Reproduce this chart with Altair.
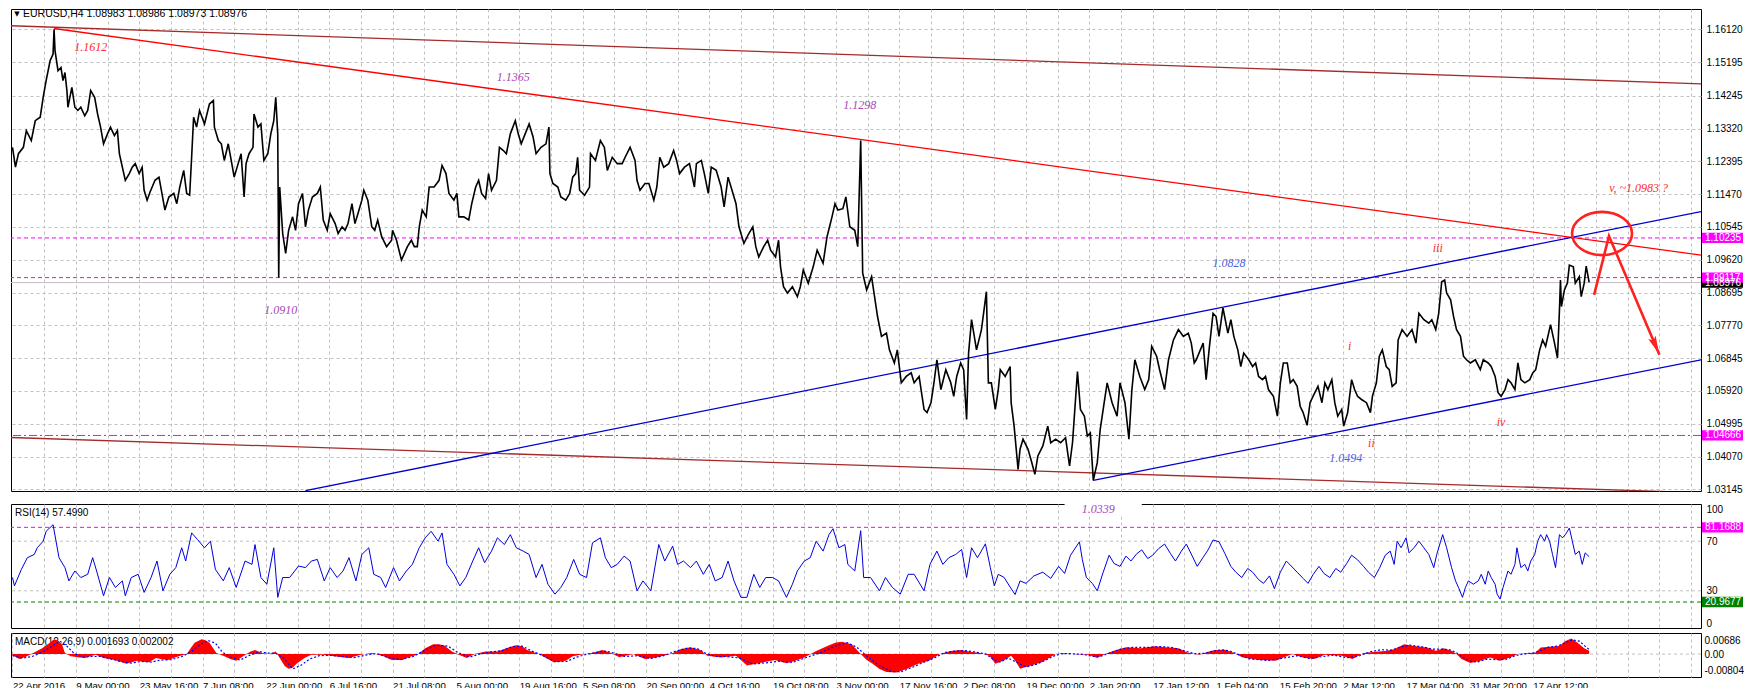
import altair as alt
import pandas as pd

# ------------------------------------------------------------------ data
# EURUSD H4 close, (bar index, price)
price_points = [
    (0, 1.1279), (3, 1.1223), (6, 1.1261), (11, 1.1279), (14, 1.1326), (19, 1.1298), (23, 1.1354), (28, 1.1364),
    (31, 1.1420), (34, 1.1467), (38, 1.1523), (41, 1.1542), (42, 1.1612), (43, 1.1551), (46, 1.1495), (49, 1.1504),
    (51, 1.1467), (53, 1.1490), (55, 1.1439), (56, 1.1392), (60, 1.1448), (63, 1.1392), (66, 1.1383), (69, 1.1392),
    (73, 1.1368), (76, 1.1383), (79, 1.1439), (83, 1.1420), (86, 1.1373), (89, 1.1336), (92, 1.1289), (96, 1.1317),
    (99, 1.1336), (103, 1.1312), (106, 1.1326), (108, 1.1261), (111, 1.1223), (114, 1.1186), (118, 1.1205),
    (121, 1.1223), (124, 1.1233), (128, 1.1205), (131, 1.1223), (133, 1.1158), (136, 1.1130), (139, 1.1153),
    (144, 1.1186), (148, 1.1195), (151, 1.1149), (154, 1.1102), (158, 1.1139), (163, 1.1149), (166, 1.1120),
    (169, 1.1167), (173, 1.1214), (176, 1.1149), (179, 1.1144), (181, 1.1251), (183, 1.1364), (186, 1.1336),
    (189, 1.1383), (194, 1.1345), (199, 1.1401), (203, 1.1411), (204, 1.1336), (208, 1.1298), (211, 1.1289),
    (214, 1.1242), (218, 1.1289), (221, 1.1242), (224, 1.1195), (228, 1.1233), (231, 1.1261), (234, 1.1139),
    (236, 1.1233), (239, 1.1261), (243, 1.1279), (244, 1.1373), (248, 1.1336), (251, 1.1345), (254, 1.1242),
    (258, 1.1261), (261, 1.1317), (264, 1.1354), (266, 1.1420), (268, 1.1317), (269, 1.0912), (270, 1.1167),
    (273, 1.1036), (276, 1.0980), (279, 1.1045), (283, 1.1083), (286, 1.1045), (289, 1.1120), (293, 1.1149),
    (296, 1.1055), (299, 1.1102), (303, 1.1139), (308, 1.1149), (311, 1.1167), (314, 1.1074), (318, 1.1045),
    (321, 1.1092), (326, 1.1064), (329, 1.1036), (333, 1.1055), (336, 1.1045), (339, 1.1064), (343, 1.1120),
    (346, 1.1064), (349, 1.1092), (353, 1.1130), (355, 1.1158), (359, 1.1130), (363, 1.1055), (366, 1.1045),
    (369, 1.1074), (373, 1.1027), (378, 1.0999), (383, 1.1017), (384, 1.1045), (388, 1.1017), (393, 1.0961),
    (396, 1.0980), (399, 1.0999), (403, 1.1017), (406, 1.0999), (409, 1.0999), (411, 1.1055), (414, 1.1102),
    (418, 1.1083), (421, 1.1167), (426, 1.1167), (431, 1.1186), (434, 1.1228), (438, 1.1205), (441, 1.1149),
    (446, 1.1130), (449, 1.1149), (451, 1.1083), (456, 1.1083), (461, 1.1074), (464, 1.1120), (468, 1.1167),
    (471, 1.1186), (474, 1.1149), (478, 1.1135), (481, 1.1205), (484, 1.1158), (489, 1.1186), (492, 1.1279),
    (496, 1.1270), (499, 1.1261), (503, 1.1317), (508, 1.1354), (511, 1.1317), (514, 1.1289), (518, 1.1317),
    (522, 1.1345), (526, 1.1308), (529, 1.1261), (534, 1.1279), (539, 1.1289), (542, 1.1336), (543, 1.1205),
    (546, 1.1177), (551, 1.1167), (554, 1.1139), (559, 1.1130), (563, 1.1149), (566, 1.1195), (569, 1.1205),
    (571, 1.1251), (573, 1.1158), (578, 1.1144), (583, 1.1167), (584, 1.1261), (589, 1.1242), (594, 1.1298),
    (598, 1.1279), (601, 1.1214), (606, 1.1251), (611, 1.1233), (616, 1.1233), (619, 1.1251), (624, 1.1279),
    (629, 1.1242), (631, 1.1186), (634, 1.1158), (639, 1.1177), (643, 1.1177), (648, 1.1130), (651, 1.1167),
    (654, 1.1251), (658, 1.1223), (663, 1.1233), (668, 1.1270), (671, 1.1242), (674, 1.1205), (679, 1.1223),
    (684, 1.1233), (689, 1.1167), (691, 1.1233), (696, 1.1242), (699, 1.1205), (703, 1.1149), (706, 1.1223),
    (711, 1.1214), (716, 1.1167), (719, 1.1111), (723, 1.1195), (726, 1.1167), (731, 1.1120), (734, 1.1055),
    (739, 1.1008), (744, 1.1036), (748, 1.1055), (751, 1.0999), (754, 1.0970), (759, 1.0999), (763, 1.1017),
    (766, 1.0989), (771, 1.0970), (774, 1.1017), (776, 1.0942), (779, 1.0886), (783, 1.0868), (788, 1.0886),
    (793, 1.0858), (796, 1.0886), (799, 1.0933), (804, 1.0896), (809, 1.0942), (813, 1.0989), (819, 1.0952),
    (823, 1.1027), (828, 1.1083), (831, 1.1120), (834, 1.1102), (839, 1.1106), (842, 1.1139), (846, 1.1055),
    (851, 1.1045), (854, 1.0999), (857, 1.1298), (859, 1.0924), (863, 1.0877), (868, 1.0914), (871, 1.0858),
    (874, 1.0802), (878, 1.0746), (883, 1.0755), (886, 1.0708), (891, 1.0671), (894, 1.0708), (898, 1.0615),
    (903, 1.0633), (908, 1.0643), (911, 1.0615), (916, 1.0633), (921, 1.0540), (924, 1.0531), (928, 1.0559),
    (931, 1.0615), (934, 1.0680), (938, 1.0596), (943, 1.0652), (948, 1.0615), (951, 1.0577), (954, 1.0633),
    (958, 1.0671), (961, 1.0652), (964, 1.0512), (966, 1.0699), (969, 1.0793), (974, 1.0708), (979, 1.0765),
    (984, 1.0872), (986, 1.0615), (989, 1.0615), (993, 1.0540), (996, 1.0596), (998, 1.0652), (1003, 1.0633),
    (1008, 1.0661), (1009, 1.0559), (1012, 1.0493), (1016, 1.0371), (1018, 1.0428), (1021, 1.0456), (1026, 1.0428),
    (1029, 1.0399), (1033, 1.0357), (1036, 1.0409), (1041, 1.0437), (1046, 1.0493), (1049, 1.0446), (1054, 1.0456),
    (1059, 1.0446), (1064, 1.0460), (1068, 1.0381), (1071, 1.0446), (1076, 1.0647), (1079, 1.0540), (1083, 1.0521),
    (1086, 1.0465), (1089, 1.0474), (1092, 1.0340), (1096, 1.0390), (1099, 1.0484), (1103, 1.0559), (1106, 1.0615),
    (1111, 1.0559), (1116, 1.0521), (1119, 1.0615), (1124, 1.0559), (1128, 1.0456), (1131, 1.0596), (1134, 1.0680),
    (1139, 1.0633), (1144, 1.0596), (1148, 1.0624), (1151, 1.0718), (1156, 1.0690), (1159, 1.0652), (1164, 1.0596),
    (1168, 1.0680), (1173, 1.0736), (1178, 1.0765), (1183, 1.0746), (1188, 1.0755), (1191, 1.0727), (1194, 1.0671),
    (1196, 1.0680), (1203, 1.0727), (1206, 1.0624), (1209, 1.0708), (1213, 1.0811), (1216, 1.0802), (1219, 1.0746),
    (1223, 1.0826), (1228, 1.0755), (1231, 1.0793), (1234, 1.0746), (1238, 1.0708), (1241, 1.0661), (1244, 1.0699),
    (1249, 1.0680), (1253, 1.0661), (1256, 1.0671), (1259, 1.0633), (1263, 1.0624), (1266, 1.0633), (1269, 1.0596),
    (1274, 1.0577), (1278, 1.0521), (1281, 1.0615), (1284, 1.0671), (1288, 1.0671), (1291, 1.0615), (1294, 1.0624),
    (1298, 1.0605), (1301, 1.0549), (1304, 1.0531), (1308, 1.0495), (1311, 1.0559), (1314, 1.0577), (1319, 1.0605),
    (1323, 1.0559), (1326, 1.0615), (1329, 1.0596), (1333, 1.0624), (1336, 1.0559), (1339, 1.0521), (1343, 1.0540),
    (1345, 1.0493), (1349, 1.0531), (1353, 1.0624), (1356, 1.0596), (1359, 1.0577), (1363, 1.0568), (1368, 1.0559),
    (1372, 1.0531), (1374, 1.0577), (1378, 1.0615), (1381, 1.0690), (1384, 1.0708), (1388, 1.0661), (1391, 1.0652),
    (1394, 1.0605), (1398, 1.0615), (1400, 1.0736), (1404, 1.0765), (1409, 1.0746), (1414, 1.0765), (1418, 1.0727),
    (1421, 1.0811), (1426, 1.0793), (1431, 1.0783), (1434, 1.0793), (1438, 1.0765), (1441, 1.0811), (1444, 1.0900),
    (1447, 1.0905), (1449, 1.0868), (1453, 1.0849), (1456, 1.0802), (1459, 1.0765), (1463, 1.0746), (1466, 1.0690),
    (1469, 1.0680), (1473, 1.0671), (1478, 1.0680), (1483, 1.0652), (1486, 1.0680), (1491, 1.0671), (1494, 1.0661),
    (1498, 1.0633), (1501, 1.0587), (1504, 1.0577), (1508, 1.0596), (1511, 1.0624), (1514, 1.0615), (1518, 1.0596),
    (1521, 1.0671), (1524, 1.0624), (1528, 1.0615), (1533, 1.0624), (1536, 1.0643), (1539, 1.0652), (1543, 1.0708),
    (1546, 1.0736), (1549, 1.0718), (1554, 1.0779), (1558, 1.0727), (1561, 1.0685), (1563, 1.0821), (1564, 1.0905),
    (1565, 1.0830), (1568, 1.0877), (1571, 1.0896), (1573, 1.0947), (1577, 1.0942), (1579, 1.0896), (1583, 1.0914),
    (1585, 1.0858), (1588, 1.0896), (1590, 1.0944), (1593, 1.0898),
]

rsi_points = [
    (0, 40.7), (2, 34.0), (9, 47.3), (15, 56.7), (22, 59.3), (25, 64.7), (31, 70.0), (34, 78.0), (41, 83.3),
    (44, 70.0), (47, 56.7), (53, 48.7), (57, 38.0), (63, 46.0), (69, 40.7), (76, 43.3), (81, 56.7), (85, 46.0),
    (92, 26.0), (98, 40.7), (104, 32.7), (111, 38.0), (114, 26.0), (120, 40.7), (127, 43.3), (133, 28.7),
    (140, 40.7), (146, 54.0), (152, 30.0), (159, 43.3), (165, 48.7), (171, 64.7), (175, 54.0), (181, 76.7),
    (187, 71.3), (194, 64.7), (200, 70.0), (205, 47.3), (213, 38.0), (219, 48.7), (226, 32.7), (235, 54.0),
    (242, 51.3), (245, 67.3), (251, 40.7), (257, 35.3), (264, 64.7), (268, 24.7), (273, 40.7), (280, 40.7),
    (289, 50.0), (296, 48.7), (302, 54.0), (308, 55.3), (315, 38.0), (321, 48.7), (328, 40.7), (334, 46.0),
    (340, 56.7), (347, 38.0), (353, 59.3), (360, 64.7), (365, 43.3), (372, 40.7), (377, 32.7), (385, 48.7),
    (391, 38.0), (398, 46.0), (404, 51.3), (411, 64.7), (417, 72.7), (423, 78.0), (430, 70.0), (434, 76.7),
    (439, 51.3), (446, 43.3), (452, 34.0), (458, 40.7), (465, 54.0), (471, 64.7), (477, 52.7), (484, 62.0),
    (490, 72.7), (497, 67.3), (503, 75.3), (509, 64.7), (516, 62.0), (522, 59.3), (529, 40.7), (535, 51.3),
    (541, 35.3), (548, 27.3), (554, 32.7), (560, 40.7), (567, 55.3), (573, 43.3), (580, 40.7), (586, 68.7),
    (594, 72.7), (599, 56.7), (605, 48.7), (611, 51.3), (618, 58.0), (624, 54.0), (631, 30.0), (637, 38.0),
    (645, 30.0), (653, 67.3), (659, 54.0), (667, 66.0), (672, 51.3), (678, 54.0), (685, 48.7), (691, 54.0),
    (698, 43.3), (704, 51.3), (710, 38.0), (717, 40.7), (723, 54.0), (729, 38.0), (736, 24.7), (742, 24.7),
    (749, 43.3), (755, 32.7), (761, 40.7), (768, 40.7), (774, 38.0), (782, 24.7), (788, 35.3), (793, 46.0),
    (800, 54.0), (806, 56.7), (812, 70.0), (819, 62.0), (825, 75.3), (829, 80.1), (835, 64.7), (841, 67.3),
    (844, 51.3), (851, 46.0), (857, 78.5), (860, 40.7), (867, 40.7), (876, 30.0), (882, 40.7), (889, 32.7),
    (897, 27.3), (905, 43.3), (911, 43.3), (921, 30.0), (927, 51.3), (934, 62.0), (940, 51.3), (946, 56.7),
    (953, 59.3), (959, 63.3), (964, 40.7), (969, 64.7), (975, 56.7), (983, 67.9), (988, 48.7), (992, 34.0),
    (996, 43.3), (1002, 40.7), (1008, 33.0), (1013, 27.0), (1018, 38.0), (1024, 36.0), (1032, 42.0), (1041, 45.0),
    (1049, 40.0), (1057, 49.7), (1063, 44.0), (1069, 58.7), (1078, 69.5), (1081, 55.0), (1085, 40.7), (1091, 36.0),
    (1096, 30.0), (1102, 45.0), (1108, 58.7), (1113, 52.0), (1119, 49.7), (1125, 58.0), (1130, 54.0), (1136, 60.0),
    (1141, 63.0), (1147, 56.0), (1152, 58.7), (1158, 64.0), (1164, 67.7), (1170, 60.0), (1175, 54.0), (1181, 62.0),
    (1186, 67.7), (1192, 58.0), (1197, 49.7), (1203, 57.0), (1208, 63.0), (1213, 71.0), (1219, 69.5), (1225, 60.0),
    (1231, 49.7), (1236, 45.0), (1242, 40.7), (1248, 48.0), (1253, 45.0), (1259, 39.0), (1264, 36.0), (1270, 42.0),
    (1275, 31.7), (1281, 45.0), (1287, 54.0), (1292, 50.0), (1298, 45.0), (1304, 40.0), (1309, 36.0), (1314, 43.0),
    (1320, 49.7), (1325, 44.0), (1331, 40.7), (1337, 48.0), (1342, 45.0), (1348, 52.0), (1353, 58.7), (1359, 55.0),
    (1365, 49.7), (1370, 45.0), (1376, 40.7), (1381, 48.0), (1387, 58.7), (1392, 62.0), (1396, 51.3), (1399, 70.0),
    (1403, 64.7), (1408, 72.7), (1411, 60.6), (1416, 64.7), (1421, 70.0), (1426, 64.7), (1431, 59.3), (1436, 48.7),
    (1439, 59.3), (1443, 70.0), (1445, 75.3), (1449, 64.7), (1454, 48.7), (1458, 38.0), (1461, 32.7), (1465, 24.7),
    (1468, 32.7), (1471, 38.0), (1476, 35.3), (1481, 38.0), (1484, 43.3), (1488, 35.3), (1491, 46.0), (1494, 40.7),
    (1498, 35.3), (1500, 27.3), (1503, 23.3), (1506, 32.7), (1511, 46.0), (1514, 43.3), (1518, 51.3), (1520, 64.7),
    (1524, 48.7), (1528, 51.3), (1531, 46.0), (1534, 54.0), (1538, 59.3), (1541, 70.0), (1544, 75.3), (1548, 70.0),
    (1550, 75.3), (1553, 70.0), (1556, 59.3), (1559, 48.7), (1563, 75.3), (1566, 72.7), (1569, 75.3), (1573, 80.6),
    (1576, 70.0), (1579, 59.3), (1583, 62.0), (1586, 51.3), (1589, 60.6), (1593, 57.5),
]

macd_points = [
    (0, -0.0006), (7, -0.0025), (13, -0.0015), (19, 0.0), (30, 0.0029), (37, 0.0055), (42, 0.0074), (46, 0.0068),
    (50, 0.0049), (53, 0.0005), (59, -0.0011), (66, -0.0016), (73, -0.0020), (84, -0.0003), (92, -0.0020),
    (103, -0.0029), (110, -0.0040), (115, -0.0049), (121, -0.0040), (126, -0.0033), (132, -0.0038), (138, -0.0041),
    (145, -0.0020), (151, -0.0026), (157, -0.0029), (168, -0.0011), (176, 0.0), (180, 0.0030), (184, 0.0057),
    (191, 0.0074), (195, 0.0070), (199, 0.0057), (206, 0.0005), (214, -0.0011), (220, -0.0025), (226, -0.0033),
    (233, -0.0011), (240, 0.0012), (245, 0.0021), (252, 0.0005), (260, 0.0), (266, 0.0013), (270, -0.0020),
    (275, -0.0060), (279, -0.0074), (283, -0.0068), (287, -0.0049), (295, -0.0020), (302, -0.0003), (314, -0.0003),
    (325, -0.0011), (333, -0.0016), (340, -0.0020), (352, -0.0003), (363, 0.0005), (375, -0.0011), (383, -0.0029),
    (394, -0.0029), (401, -0.0015), (409, -0.0003), (417, 0.0029), (425, 0.0049), (430, 0.0050), (436, 0.0045),
    (444, 0.0013), (451, -0.0003), (459, -0.0020), (467, 0.0), (478, 0.0013), (490, 0.0013), (501, 0.0033),
    (509, 0.0045), (515, 0.0040), (520, 0.0021), (532, 0.0), (539, -0.0020), (547, -0.0041), (553, -0.0038),
    (559, -0.0033), (566, -0.0011), (574, -0.0003), (585, 0.0005), (596, 0.0021), (605, 0.0005), (613, -0.0016),
    (627, 0.0), (639, -0.0025), (650, -0.0017), (665, 0.0), (675, 0.0025), (685, 0.0035), (695, 0.0020),
    (702, -0.0008), (716, -0.0017), (731, -0.0008), (737, -0.0035), (742, -0.0057), (750, -0.0050), (759, -0.0041),
    (770, -0.0030), (782, -0.0046), (790, -0.0035), (800, -0.0017), (812, 0.0015), (825, 0.0045), (832, 0.0058),
    (838, 0.0062), (848, 0.0050), (857, 0.0), (863, -0.0030), (869, -0.0049), (876, -0.0075), (883, -0.0090),
    (893, -0.0092), (904, -0.0074), (915, -0.0049), (926, -0.0033), (937, 0.0), (948, 0.0015), (958, 0.0020),
    (968, 0.0012), (978, 0.0005), (987, -0.0008), (993, -0.0049), (1001, -0.0033), (1009, -0.0008), (1014, -0.0040),
    (1018, -0.0074), (1029, -0.0057), (1040, -0.0041), (1048, -0.0017), (1054, 0.0), (1062, 0.0004), (1071, 0.0),
    (1087, -0.0003), (1096, -0.0020), (1104, 0.0), (1115, 0.0020), (1125, 0.0035), (1140, 0.0030), (1154, 0.0040),
    (1165, 0.0035), (1178, 0.0030), (1187, 0.0008), (1199, -0.0003), (1208, 0.0012), (1215, 0.0020), (1225, 0.0022),
    (1232, 0.0010), (1243, -0.0017), (1260, -0.0030), (1276, -0.0033), (1293, 0.0), (1304, -0.0017), (1315, -0.0025),
    (1326, -0.0003), (1343, -0.0008), (1354, -0.0025), (1365, 0.0005), (1377, 0.0012), (1387, 0.0015), (1396, 0.0025),
    (1406, 0.0049), (1416, 0.0041), (1429, 0.0033), (1438, 0.0017), (1446, 0.0030), (1454, 0.0017), (1459, 0.0),
    (1464, -0.0025), (1473, -0.0045), (1483, -0.0033), (1493, -0.0017), (1503, -0.0033), (1513, -0.0017), (1521, 0.0),
    (1529, 0.0003), (1539, 0.0008), (1544, 0.0033), (1553, 0.0037), (1563, 0.0041), (1569, 0.0066), (1575, 0.0078),
    (1581, 0.0058), (1588, 0.0030), (1593, 0.0017),
]

signal_points = [
    (0, -0.0008), (10, -0.0020), (20, -0.0012), (30, 0.0010), (40, 0.0040), (48, 0.0065), (55, 0.0040), (62, 0.0005),
    (70, -0.0015), (80, -0.0012), (90, -0.0012), (100, -0.0025), (110, -0.0038), (120, -0.0045), (130, -0.0037),
    (140, -0.0040), (150, -0.0030), (160, -0.0028), (170, -0.0015), (180, 0.0010), (190, 0.0050), (198, 0.0068),
    (205, 0.0055), (212, 0.0010), (220, -0.0015), (230, -0.0030), (240, -0.0005), (250, 0.0012), (258, 0.0005),
    (266, 0.0004), (274, -0.0020), (283, -0.0075), (292, -0.0055), (300, -0.0025), (310, -0.0008), (320, -0.0006),
    (330, -0.0010), (345, -0.0018), (358, -0.0004), (368, 0.0003), (380, -0.0018), (392, -0.0028), (405, -0.0012),
    (415, 0.0015), (428, 0.0045), (440, 0.0040), (450, 0.0008), (462, -0.0015), (472, 0.0), (485, 0.0012),
    (495, 0.0018), (505, 0.0038), (515, 0.0040), (525, 0.0015), (537, -0.0010), (548, -0.0038), (560, -0.0037),
    (570, -0.0015), (580, -0.0001), (590, 0.0008), (600, 0.0015), (610, 0.0002), (618, -0.0012), (632, -0.0008),
    (645, -0.0022), (658, -0.0008), (670, 0.0015), (682, 0.0030), (692, 0.0028), (700, 0.0005), (710, -0.0012),
    (722, -0.0012), (735, -0.0020), (748, -0.0050), (765, -0.0042), (775, -0.0035), (788, -0.0042), (805, -0.0012),
    (818, 0.0010), (830, 0.0038), (843, 0.0058), (853, 0.0035), (862, -0.0005), (875, -0.0055), (888, -0.0088),
    (898, -0.0088), (910, -0.0065), (920, -0.0042), (932, -0.0018), (942, 0.0008), (953, 0.0015), (963, 0.0018),
    (973, 0.0010), (983, 0.0002), (992, -0.0030), (998, -0.0040), (1006, -0.0020), (1014, -0.0040), (1024, -0.0065),
    (1035, -0.0050), (1044, -0.0030), (1052, -0.0010), (1060, 0.0002), (1070, 0.0002), (1082, -0.0002),
    (1092, -0.0012), (1100, -0.0010), (1110, 0.0008), (1120, 0.0025), (1132, 0.0034), (1148, 0.0034), (1160, 0.0038),
    (1172, 0.0033), (1183, 0.0018), (1194, 0.0002), (1204, 0.0004), (1213, 0.0015), (1222, 0.0021), (1230, 0.0016),
    (1240, -0.0005), (1250, -0.0024), (1268, -0.0032), (1282, -0.0022), (1298, -0.0008), (1310, -0.0022),
    (1320, -0.0015), (1335, -0.0005), (1348, -0.0018), (1360, -0.0010), (1372, 0.0012), (1383, 0.0022),
    (1393, 0.0020), (1402, 0.0035), (1412, 0.0045), (1424, 0.0037), (1435, 0.0025), (1445, 0.0025), (1452, 0.0022),
    (1458, 0.0010), (1465, -0.0015), (1472, -0.0035), (1480, -0.0040), (1490, -0.0025), (1500, -0.0028),
    (1510, -0.0025), (1518, -0.0008), (1527, 0.0001), (1537, 0.0006), (1544, 0.0018), (1552, 0.0035), (1561, 0.0040),
    (1568, 0.0055), (1576, 0.0072), (1583, 0.0065), (1590, 0.0035), (1594, 0.0020),
]

date_labels = ['22 Apr 2016', '9 May 00:00', '23 May 16:00', '7 Jun 08:00', '22 Jun 00:00', '6 Jul 16:00',
               '21 Jul 08:00', '5 Aug 00:00', '19 Aug 16:00', '5 Sep 08:00', '20 Sep 00:00', '4 Oct 16:00',
               '19 Oct 08:00', '3 Nov 00:00', '17 Nov 16:00', '2 Dec 08:00', '19 Dec 00:00', '2 Jan 20:00',
               '17 Jan 12:00', '1 Feb 04:00', '15 Feb 20:00', '2 Mar 12:00', '17 Mar 04:00', '31 Mar 20:00',
               '17 Apr 12:00']
bars_per_label = 64
bars_per_grid = 32

price_ticks = [1.16120, 1.15195, 1.14245, 1.13320, 1.12395, 1.11470, 1.10545, 1.09620, 1.08695,
               1.07770, 1.06845, 1.05920, 1.04995, 1.04070, 1.03145]
rsi_ticks = [100, 70, 30, 0]
macd_ticks = [0.00686, 0.0, -0.008043]

level_dashed = [1.10235, 1.09117]
level_dashdot = [1.04666]
current_price = 1.08976
rsi_high, rsi_low = 81.1688, 20.9677

trend_name = ['channel top', 'channel bottom', 'resistance', 'support top', 'support bottom']
trend_color = ['#A52A2A', '#A52A2A', '#FF0000', '#0000CD', '#0000CD']
trend_bar0 = [-4, -4, 42, 296, 1092]
trend_p0 = [1.1622, 1.0461, 1.1614, 1.0311, 1.0340]
trend_bar1 = [1706, 1706, 1706, 1706, 1706]
trend_p1 = [1.1458, 1.0305, 1.0975, 1.1098, 1.0680]

note_text = ['1.1612', '1.1365', '1.1298', '1.0910', '1.0828', 'iii', 'i', 'ii', '1.0494', 'iv', 'v,   ~1.0983 ?']
note_bar = [79, 506, 856, 271, 1229, 1440, 1351, 1373, 1347, 1504, 1643]
note_price = [1.1562, 1.1476, 1.1399, 1.0821, 1.0953, 1.0994, 1.0720, 1.0444, 1.0404, 1.0504, 1.1164]
note_color = ['#FF2A2A', '#A846B8', '#A846B8', '#A846B8', '#4C5FE0', '#FF2A2A', '#FF2A2A', '#FF2A2A',
              '#4C5FE0', '#FF2A2A', '#FF2A2A']

low_label_text, low_label_bar = '1.0339', 1097
circle_bar, circle_price = 1606, 1.1036
arrow_bar = [1598, 1613, 1664]
arrow_price = [1.0863, 1.1029, 1.0694]
arrowhead_bar, arrowhead_price = 1660, 1.0720

header_text = 'EURUSD,H4  1.08983 1.08986 1.08973 1.08976'
rsi_header = 'RSI(14) 57.4990'
macd_header = 'MACD(12,26,9) 0.001693 0.002002'

# ------------------------------------------------------------------ layout / style
W = 1690
H_PRICE, H_RSI, H_MACD = 482, 124, 44
GRID = '#C0C0C0'
FONT = 'Liberation Sans'
SERIF = 'Liberation Serif'

price_df = pd.DataFrame(price_points, columns=['bar', 'price'])
rsi_df = pd.DataFrame(rsi_points, columns=['bar', 'rsi'])
macd_df = pd.DataFrame(macd_points, columns=['bar', 'macd'])
signal_df = pd.DataFrame(signal_points, columns=['bar', 'macd'])

X_SCALE = alt.Scale(domain=[-1.5, 1706], nice=False, zero=False)
grid_bars = list(range(bars_per_grid, 1706, bars_per_grid))
X_GRID_AXIS = alt.Axis(values=grid_bars, labels=False, ticks=False, domain=False, grid=True,
                       gridColor=GRID, gridDash=[3, 3], title=None)
labels_js = '[' + ','.join("'" + s + "'" for s in date_labels) + ']'
last_label_bar = bars_per_label * (len(date_labels) - 1)
X_LABEL_AXIS = alt.Axis(values=[0] + grid_bars, ticks=False, domain=False, grid=True, gridColor=GRID,
                        gridDash=[3, 3], title=None, labelAlign='left', labelFlush=False, labelOverlap=False,
                        labelPadding=3, labelFontSize=9.7, labelFont=FONT, labelColor='black',
                        labelExpr=f"(datum.value % {bars_per_label} == 0 && datum.value <= {last_label_bar}) ? "
                                  f"{labels_js}[datum.value / {bars_per_label}] : ''")

P_SCALE = alt.Scale(domain=[1.0310, 1.1669], nice=False, zero=False)
P_AXIS = alt.Axis(orient='right', values=price_ticks, format='.5f', grid=True, gridColor=GRID, gridDash=[3, 3],
                  ticks=False, domain=False, labelPadding=5, labelFontSize=10, labelFont=FONT,
                  labelColor='black', title=None)


def px(field='bar'):
    return alt.X(f'{field}:Q', scale=X_SCALE, axis=X_GRID_AXIS)


def py(field='price'):
    return alt.Y(f'{field}:Q', scale=P_SCALE, axis=P_AXIS)


# ---- price panel
levels_df = pd.DataFrame({'price': level_dashed})
lv1 = alt.Chart(levels_df).mark_rule(color='#FF00FF', strokeDash=[4, 3], strokeWidth=1).encode(y=py())
lv2 = alt.Chart(pd.DataFrame({'price': level_dashdot})).mark_rule(
    color='#FF00FF', strokeDash=[8, 3, 2, 3], strokeWidth=1).encode(y=py())
cur = alt.Chart(pd.DataFrame({'price': [current_price]})).mark_rule(color='#C0C0C0', strokeWidth=1).encode(y=py())

trend_rows = []
for n, c, b0, p0, b1, p1 in zip(trend_name, trend_color, trend_bar0, trend_p0, trend_bar1, trend_p1):
    trend_rows.append({'name': n, 'color': c, 'bar': b0, 'price': p0})
    trend_rows.append({'name': n, 'color': c, 'bar': b1, 'price': p1})
trend_df = pd.DataFrame(trend_rows)
trends = alt.Chart(trend_df).mark_line(strokeWidth=1.3, clip=True).encode(
    x=px(), y=py(), detail='name:N', color=alt.Color('color:N', scale=None))

price_line = alt.Chart(price_df).mark_line(color='black', strokeWidth=1.6).encode(x=px(), y=py())

notes_df = pd.DataFrame({'text': note_text, 'bar': note_bar, 'price': note_price, 'color': note_color})
notes = alt.Chart(notes_df).mark_text(font=SERIF, fontStyle='italic', fontSize=12, align='center',
                                      baseline='middle').encode(
    x=px(), y=py(), text='text:N', color=alt.Color('color:N', scale=None))

ellipse_path = ('M -1 0 C -1 -0.4 -0.55 -0.72 0 -0.72 C 0.55 -0.72 1 -0.4 1 0 '
                'C 1 0.4 0.55 0.72 0 0.72 C -0.55 0.72 -1 0.4 -1 0 Z')
circle = alt.Chart(pd.DataFrame({'bar': [circle_bar], 'price': [circle_price]})).mark_point(
    shape=ellipse_path, size=3600, filled=False, stroke='#FF2020', strokeWidth=2.6, opacity=1).encode(
    x=px(), y=py())

arrow_df = pd.DataFrame({'bar': arrow_bar, 'price': arrow_price, 'order': list(range(len(arrow_bar)))})
arrow = alt.Chart(arrow_df).mark_line(color='#FF2020', strokeWidth=2.6).encode(
    x=px(), y=py(), order='order:Q')
arrowhead = alt.Chart(pd.DataFrame({'bar': [arrowhead_bar], 'price': [arrowhead_price]})).mark_point(
    shape='M 0 -1 L 0.45 1 L 0 0.6 L -0.45 1 Z', size=324, filled=True, color='#FF2020', angle=157,
    opacity=1).encode(x=px(), y=py())

box_df = pd.DataFrame({
    'price': [current_price, level_dashed[0], level_dashed[1], level_dashdot[0]],
    'label': [f'{current_price:.5f}', f'{level_dashed[0]:.5f}', f'{level_dashed[1]:.5f}', f'{level_dashdot[0]:.5f}'],
    'fill': ['#000000', '#FF00FF', '#FF00FF', '#FF00FF'],
})
box_half = 0.00145
box_df['hi'] = box_df['price'] + box_half
box_df['lo'] = box_df['price'] - box_half
boxes = alt.Chart(box_df).mark_rect().encode(
    x=alt.value(W + 1), x2=alt.value(W + 42), y=py('hi'), y2='lo:Q', color=alt.Color('fill:N', scale=None))
box_text = alt.Chart(box_df).mark_text(align='left', baseline='middle', color='white', font=FONT,
                                       fontSize=10).encode(x=alt.value(W + 4), y=py(), text='label:N')

hdr_tri = alt.Chart(pd.DataFrame({'t': ['▼']})).mark_text(
    font='DejaVu Sans', fontSize=7, align='center', baseline='middle', color='black').encode(
    x=alt.value(6), y=alt.value(5), text='t:N')
hdr = alt.Chart(pd.DataFrame({'t': [header_text]})).mark_text(
    font=FONT, fontSize=10.5, align='left', baseline='middle', color='black').encode(
    x=alt.value(12), y=alt.value(5), text='t:N')

price_panel = alt.layer(lv1, lv2, cur, trends, price_line, notes, circle, arrow, arrowhead,
                        boxes, box_text, hdr_tri, hdr).properties(width=W, height=H_PRICE)

# ---- RSI panel
R_SCALE = alt.Scale(domain=[0, 100], nice=False, zero=False)
R_AXIS = alt.Axis(orient='right', values=rsi_ticks, format='d', grid=False, ticks=False, domain=False,
                  labelPadding=5, labelFontSize=10, labelFont=FONT, labelColor='black', labelFlush=True, title=None)


def ry(field='rsi'):
    return alt.Y(f'{field}:Q', scale=R_SCALE, axis=R_AXIS)


rsi_grid = alt.Chart(pd.DataFrame({'rsi': [70, 30]})).mark_rule(
    color=GRID, strokeDash=[3, 3]).encode(y=ry())
rsi_hi = alt.Chart(pd.DataFrame({'rsi': [rsi_high]})).mark_rule(
    color='#FF00FF', strokeDash=[4, 3]).encode(y=ry())
rsi_lo = alt.Chart(pd.DataFrame({'rsi': [rsi_low]})).mark_rule(
    color='#008000', strokeDash=[4, 3]).encode(y=ry())
rsi_line = alt.Chart(rsi_df).mark_line(color='#0000DD', strokeWidth=1).encode(x=px(), y=ry())

rbox_df = pd.DataFrame({'rsi': [rsi_high, rsi_low], 'label': [f'{rsi_high:.4f}', f'{rsi_low:.4f}'],
                        'fill': ['#FF00FF', '#008000']})
rbox_df['hi'] = rbox_df['rsi'] + 4.2
rbox_df['lo'] = rbox_df['rsi'] - 4.2
rboxes = alt.Chart(rbox_df).mark_rect().encode(
    x=alt.value(W + 1), x2=alt.value(W + 42), y=ry('hi'), y2='lo:Q', color=alt.Color('fill:N', scale=None))
rbox_text = alt.Chart(rbox_df).mark_text(align='left', baseline='middle', color='white', font=FONT,
                                         fontSize=10).encode(x=alt.value(W + 4), y=ry(), text='label:N')
rsi_hdr = alt.Chart(pd.DataFrame({'t': [rsi_header]})).mark_text(
    font=FONT, fontSize=10, align='left', baseline='middle', color='black').encode(
    x=alt.value(4), y=alt.value(9), text='t:N')

low_df = pd.DataFrame({'bar': [low_label_bar - 34], 'bar2': [low_label_bar + 44], 'hi': [104.0], 'lo': [90.0]})
low_box = alt.Chart(low_df).mark_rect(color='white').encode(x=px(), x2='bar2:Q', y=ry('hi'), y2='lo:Q')
low_txt = alt.Chart(pd.DataFrame({'bar': [low_label_bar], 'rsi': [96.0], 't': [low_label_text]})).mark_text(
    font=SERIF, fontStyle='italic', fontSize=12, color='#A846B8', align='center', baseline='middle').encode(
    x=px(), y=ry(), text='t:N')

rsi_panel = alt.layer(rsi_grid, rsi_hi, rsi_lo, rsi_line, rboxes, rbox_text, rsi_hdr, low_box, low_txt
                      ).properties(width=W, height=H_RSI)

# ---- MACD panel
M_SCALE = alt.Scale(domain=[-0.0115, 0.0106], nice=False, zero=False)
M_AXIS = alt.Axis(orient='right', values=macd_ticks, grid=False, ticks=False, domain=False, labelPadding=3,
                  labelFontSize=10, labelFont=FONT, labelColor='black', title=None,
                  labelExpr="datum.value > 0.001 ? '0.00686' : (datum.value < -0.001 ? '-0.00804' : '0.00')")


def mx(field='bar'):
    return alt.X(f'{field}:Q', scale=X_SCALE, axis=X_LABEL_AXIS)


def my(field='macd'):
    return alt.Y(f'{field}:Q', scale=M_SCALE, axis=M_AXIS)


m_zero = alt.Chart(pd.DataFrame({'macd': [0.0]})).mark_rule(color=GRID, strokeDash=[3, 3]).encode(y=my())
m_hdr = alt.Chart(pd.DataFrame({'t': [macd_header]})).mark_text(
    font=FONT, fontSize=10, align='left', baseline='middle', color='black').encode(
    x=alt.value(4), y=alt.value(9), text='t:N')
m_area = alt.Chart(macd_df).mark_area(color='#FF0000', opacity=1).encode(x=mx(), y=my(), y2=alt.datum(0))
m_sig = alt.Chart(signal_df).mark_line(color='#0000FF', strokeDash=[2, 2], strokeWidth=1.2).encode(x=mx(), y=my())

macd_panel = alt.layer(m_zero, m_hdr, m_area, m_sig).properties(width=W, height=H_MACD)

chart = alt.vconcat(price_panel, rsi_panel, macd_panel, spacing=3).properties(
    padding=0, background='white'
).configure_view(stroke='black', strokeWidth=1)

chart.save('out.html', embed_options={'renderer': 'svg', 'actions': False})
